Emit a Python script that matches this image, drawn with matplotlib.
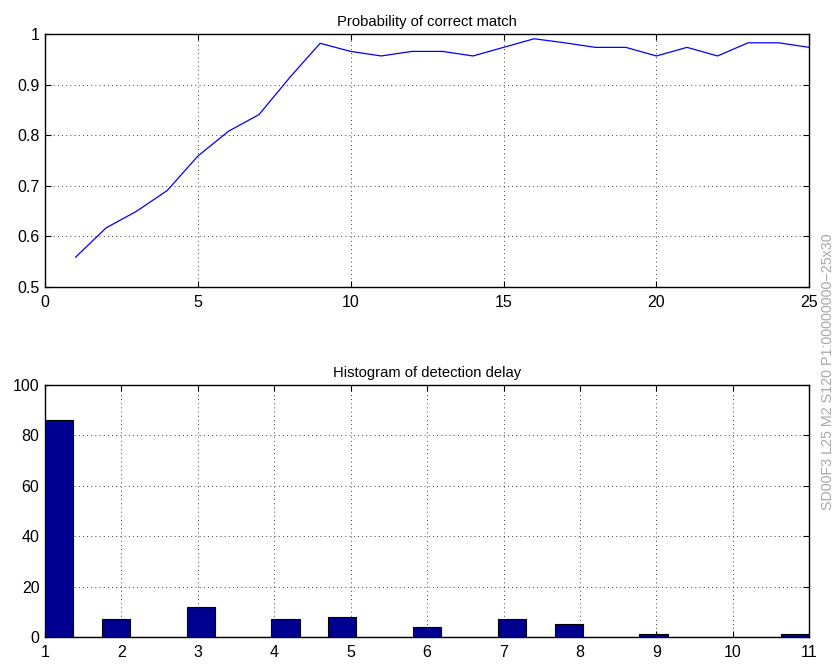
import numpy as np
import matplotlib
matplotlib.use('Agg')
import matplotlib.pyplot as plt
from matplotlib.ticker import FuncFormatter

plt.rcParams['font.family'] = ['Liberation Sans', 'DejaVu Sans']

# probability of correct match vs. index
match_x = list(range(1, 26))
match_p = [0.559, 0.617, 0.650, 0.691, 0.759, 0.808, 0.841, 0.914, 0.982,
           0.966, 0.957, 0.966, 0.966, 0.957, 0.974, 0.991, 0.983, 0.974,
           0.974, 0.957, 0.974, 0.957, 0.983, 0.983, 0.974]

# histogram of detection delay: 27 bins between 1 and 11
delay_min, delay_max = 1, 11
delay_counts = [86, 0, 7, 0, 0, 12, 0, 0, 7, 0, 8, 0, 0, 4, 0, 0, 7, 0, 5,
                0, 0, 1, 0, 0, 0, 0, 1]

stamp = 'SD00F3 L25 M2 S120 P1:00000000\u221225x30'

fs = 11.5


def style_axes(ax):
    ax.tick_params(direction='in', top=True, right=True, labelsize=fs,
                   length=4, width=0.8)
    ax.tick_params(axis='x', pad=6)
    ax.tick_params(axis='y', pad=4)
    ax.grid(True, color='black', linestyle=(0, (1, 4)), linewidth=0.6)
    for s in ax.spines.values():
        s.set_linewidth(1.0)


fig = plt.figure(figsize=(8.38, 6.67), dpi=100)

# top panel
ax1 = fig.add_axes([0.0537, 0.5697, 0.912, 0.379])
ax1.plot(match_x, match_p, color='blue', linewidth=0.9)
ax1.set_xlim(0, 25)
ax1.set_ylim(0.5, 1)
ax1.set_xticks(range(0, 26, 5))
ax1.set_yticks(np.arange(0.5, 1.01, 0.1))
ax1.yaxis.set_major_formatter(FuncFormatter(lambda v, p: ('%g' % round(v, 2))))
ax1.set_title('Probability of correct match', fontsize=fs * 0.92, pad=6)
style_axes(ax1)

# bottom panel
edges = np.linspace(delay_min, delay_max, len(delay_counts) + 1)
ax2 = fig.add_axes([0.0537, 0.045, 0.912, 0.378])
ax2.bar(edges[:-1], delay_counts, width=np.diff(edges), align='edge',
        color='#000090', edgecolor='black', linewidth=0.8, zorder=3)
ax2.set_xlim(delay_min, delay_max)
ax2.set_ylim(0, 100)
ax2.set_xticks(range(1, 12))
ax2.set_yticks(range(0, 101, 20))
ax2.set_title('Histogram of detection delay', fontsize=fs * 0.92, pad=6)
style_axes(ax2)

fig.text(0.988, 0.443, stamp, rotation=90, color='#a8a8a8', fontsize=10.3,
         ha='center', va='center')

fig.savefig('out.png', dpi=100)
